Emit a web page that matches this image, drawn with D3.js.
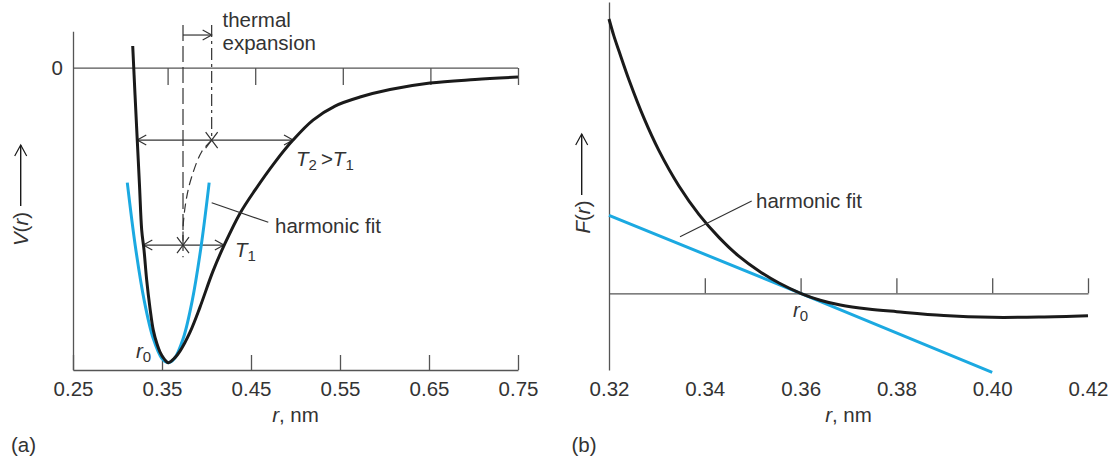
<!DOCTYPE html>
<html>
<head>
<meta charset="utf-8">
<script src="https://cdn.jsdelivr.net/npm/d3@7"></script>
<style>
  html, body { margin: 0; padding: 0; background: #fff; }
  svg text { font-family: "Liberation Sans", Arial, sans-serif; fill: #333; }
</style>
</head>
<body>
<script>
// ---------- DATA ----------
// (a) potential energy V(r), arbitrary units (minimum = -1)
const vCurveR = [0.3171, 0.3197, 0.3222, 0.3247, 0.3272, 0.3298, 0.3328, 0.3365, 0.3402, 0.3444, 0.3478, 0.3522, 0.3571,
                 0.3646, 0.3702, 0.3815, 0.3927, 0.4073, 0.4208, 0.4376, 0.4545, 0.4770, 0.4972, 0.5197, 0.5444, 0.5725, 0.6062, 0.6511, 0.7017, 0.7500];
const vCurveV = [0.0747, -0.0917, -0.2445, -0.397, -0.550, -0.618, -0.720, -0.815, -0.8896, -0.937, -0.964, -0.9864, -1.000,
                 -0.983, -0.961, -0.8964, -0.8115, -0.6893, -0.5953, -0.4934, -0.4143, -0.3192, -0.2445, -0.1766, -0.129, -0.0985, -0.073, -0.0509, -0.039, -0.0306];
// (a) harmonic fit
const harmR = [0.311, 0.320, 0.330, 0.340, 0.350, 0.357, 0.364, 0.374, 0.384, 0.394, 0.403];
const harmV = [-0.389, -0.604, -0.789, -0.9165, -0.986, -1.000, -0.986, -0.9165, -0.789, -0.604, -0.389];
// (a) locus of mean separation (dashed)
const midR = [0.4058, 0.3946, 0.3834, 0.3778, 0.3740, 0.3736];
const midV = [-0.2445, -0.284, -0.369, -0.437, -0.526, -0.601];
// (a) vibration amplitudes at T1 and T2: level, left end, right end, mean
const ampV = [-0.601, -0.2445];
const ampLeft = [0.329, 0.3222];
const ampRight = [0.4195, 0.4972];
const ampMid = [0.3736, 0.4058];
const rTicksA = [0.25, 0.35, 0.45, 0.55, 0.65, 0.75];

// (b) force F(r), arbitrary units
const fCurveR = [0.3200, 0.3210, 0.3221, 0.3242, 0.3273, 0.3304, 0.3346, 0.3388, 0.3430, 0.3471, 0.3513, 0.3555, 0.3600,
                 0.3641, 0.3683, 0.3741, 0.3801, 0.3899, 0.4000, 0.4100, 0.4200];
const fCurveF = [2.743, 2.577, 2.420, 2.130, 1.751, 1.429, 1.073, 0.787, 0.557, 0.371, 0.223, 0.103, 0.000,
                 -0.069, -0.117, -0.157, -0.184, -0.222, -0.240, -0.237, -0.224];
// (b) harmonic (linear) fit
const harmFR = [0.32, 0.36, 0.40];
const harmFF = [0.78, 0.00, -0.79];
const rTicksB = [0.32, 0.34, 0.36, 0.38, 0.40, 0.42];

// ---------- STYLE ----------
const AX = "#555", INK = "#1a1a1a", BLUE = "#1ba9e1", TXT = "#333";
const FS = 20.5;

const svg = d3.select("body").append("svg").attr("width", 1119).attr("height", 461);

function styleAxis(g) {
  g.selectAll("path.domain, .tick line").attr("stroke", AX).attr("stroke-width", 1.3);
  g.selectAll("text").attr("font-size", FS).attr("fill", TXT)
   .attr("font-family", '"Liberation Sans", Arial, sans-serif');
}
function chevron(g, x, y, dir, len = 9, half = 5, color = "#333") {
  let d;
  if (dir === "right") d = `M${x - len},${y - half}L${x},${y}L${x - len},${y + half}`;
  else if (dir === "left") d = `M${x + len},${y - half}L${x},${y}L${x + len},${y + half}`;
  else d = `M${x - half},${y + len}L${x},${y}L${x + half},${y + len}`;
  g.append("path").attr("d", d).attr("fill", "none").attr("stroke", color).attr("stroke-width", 1.2);
}
function cross(g, x, y) {
  g.append("path").attr("d", `M${x - 6},${y - 8}L${x + 6},${y + 8}M${x + 6},${y - 8}L${x - 6},${y + 8}`)
   .attr("stroke", "#333").attr("stroke-width", 1.2).attr("fill", "none");
}
function subLabel(g, x, y, main, sub, after) {
  const t = g.append("text").attr("x", x).attr("y", y).attr("font-size", FS);
  t.append("tspan").text(main).attr("font-style", "italic");
  t.append("tspan").text(sub).attr("font-size", 15).attr("dy", 4);
  if (after) {
    t.append("tspan").text(after[0]).attr("dy", -4).attr("dx", 4);
    t.append("tspan").text(after[1]).attr("font-style", "italic");
    t.append("tspan").text(after[2]).attr("font-size", 15).attr("dy", 4);
  }
  return t;
}
const smooth = d3.curveCatmullRom.alpha(0.5);

// ================= PANEL (a) =================
const gA = svg.append("g");
const xA = d3.scaleLinear().domain([0.25, 0.75]).range([73, 518]);
const xAt = d3.scaleLinear().domain([0.25, 0.75]).range([80, 518]); // zero-line ticks as drawn
const yA = d3.scaleLinear().domain([-1.025, 0.125]).range([370, 31.2]);

gA.append("g").attr("transform", `translate(${xA(0.25)},0)`)
  .call(d3.axisLeft(yA).tickValues([0]).tickSize(0).tickPadding(10).tickFormat(d3.format("d")))
  .call(styleAxis);
gA.append("g").attr("transform", `translate(0,${yA(-1.025)})`)
  .call(d3.axisBottom(xA).tickValues(rTicksA).tickSizeInner(-15).tickSizeOuter(0).tickPadding(11.5).tickFormat(d3.format(".2f")))
  .call(styleAxis);
gA.append("line").attr("x1", xA(0.25)).attr("x2", xA(0.75)).attr("y1", yA(0)).attr("y2", yA(0))
  .attr("stroke", AX).attr("stroke-width", 1.3);
gA.append("g").attr("transform", `translate(0,${yA(0)})`)
  .call(d3.axisBottom(xAt).tickValues(rTicksA.slice(1)).tickSizeInner(17).tickSizeOuter(0).tickFormat(""))
  .call(g => g.select(".domain").remove())
  .call(styleAxis);

// dashed verticals
gA.append("line").attr("x1", xA(ampMid[0])).attr("x2", xA(ampMid[0]))
  .attr("y1", yA(0.146)).attr("y2", yA(-0.642))
  .attr("stroke", "#333").attr("stroke-width", 1.2).attr("stroke-dasharray", "16,5");
gA.append("line").attr("x1", xA(ampMid[1])).attr("x2", xA(ampMid[1]))
  .attr("y1", yA(0.146)).attr("y2", yA(ampV[1]))
  .attr("stroke", "#333").attr("stroke-width", 1.2).attr("stroke-dasharray", "12,4,3,4");
gA.append("path")
  .attr("d", d3.line().x((d, i) => xA(midR[i])).y((d, i) => yA(midV[i])).curve(smooth)(midR))
  .attr("fill", "none").attr("stroke", "#333").attr("stroke-width", 1.2).attr("stroke-dasharray", "9,5");
const yb = yA(0.112);
gA.append("line").attr("x1", xA(ampMid[0])).attr("x2", xA(ampMid[1])).attr("y1", yb).attr("y2", yb)
  .attr("stroke", "#333").attr("stroke-width", 1.2);
chevron(gA, xA(ampMid[1]), yb, "right");
gA.append("text").attr("x", 222.5).attr("y", 27).attr("font-size", FS).text("thermal");
gA.append("text").attr("x", 222.5).attr("y", 50).attr("font-size", FS).text("expansion");

ampV.forEach((v, i) => {
  const y = yA(v);
  gA.append("line").attr("x1", xA(ampLeft[i])).attr("x2", xA(ampRight[i])).attr("y1", y).attr("y2", y)
    .attr("stroke", "#333").attr("stroke-width", 1.2);
  chevron(gA, xA(ampLeft[i]), y, "left");
  chevron(gA, xA(ampRight[i]), y, "right");
  cross(gA, xA(ampMid[i]), y);
});

gA.append("path")
  .attr("d", d3.line().x((d, i) => xA(harmR[i])).y((d, i) => yA(harmV[i])).curve(smooth)(harmR))
  .attr("fill", "none").attr("stroke", BLUE).attr("stroke-width", 3);
gA.append("path")
  .attr("d", d3.line().x((d, i) => xA(vCurveR[i])).y((d, i) => yA(vCurveV[i])).curve(smooth)(vCurveR))
  .attr("fill", "none").attr("stroke", INK).attr("stroke-width", 3);

subLabel(gA, 296, 165.7, "T", "2", [">", "T", "1"]);
subLabel(gA, 235, 256.7, "T", "1");
gA.append("line").attr("x1", 211.7).attr("y1", 202.7).attr("x2", 268.3).attr("y2", 222.3)
  .attr("stroke", "#333").attr("stroke-width", 1.2);
gA.append("text").attr("x", 275).attr("y", 233.3).attr("font-size", FS).text("harmonic fit");
subLabel(gA, 136, 357.7, "r", "0");

const tA = gA.append("text").attr("x", 295.5).attr("y", 421.5).attr("font-size", FS).attr("text-anchor", "middle");
tA.append("tspan").text("r").attr("font-style", "italic");
tA.append("tspan").text(", nm");
const vy = gA.append("text").attr("transform", "translate(28,229) rotate(-90)").attr("font-size", FS).attr("text-anchor", "middle");
vy.append("tspan").text("V").attr("font-style", "italic");
vy.append("tspan").text("(");
vy.append("tspan").text("r").attr("font-style", "italic");
vy.append("tspan").text(")");
gA.append("line").attr("x1", 20.7).attr("x2", 20.7).attr("y1", 206).attr("y2", 145).attr("stroke", INK).attr("stroke-width", 1.4);
chevron(gA, 20.7, 145, "up", 11, 6, INK);
gA.append("text").attr("x", 11).attr("y", 451.5).attr("font-size", FS).text("(a)");

// ================= PANEL (b) =================
const gB = svg.append("g");
const xB = d3.scaleLinear().domain([0.32, 0.42]).range([609, 1088]);
const yB = d3.scaleLinear().domain([-0.767, 2.913]).range([370, 2]);

gB.append("g").attr("transform", `translate(${xB(0.32)},0)`)
  .call(d3.axisLeft(yB).tickValues([]).tickSizeOuter(0))
  .call(styleAxis);
gB.append("g").attr("transform", `translate(0,${yB(0)})`)
  .call(d3.axisBottom(xB).tickValues(rTicksB.slice(1)).tickSizeInner(-15).tickSizeOuter(0).tickFormat(""))
  .call(styleAxis);
gB.append("g").attr("transform", `translate(0,${yB(-0.767)})`)
  .call(d3.axisBottom(xB).tickValues(rTicksB).tickSize(0).tickPadding(11.5).tickFormat(d3.format(".2f")))
  .call(g => g.select(".domain").remove())
  .call(styleAxis);

gB.append("path")
  .attr("d", d3.line().x((d, i) => xB(harmFR[i])).y((d, i) => yB(harmFF[i]))(harmFR))
  .attr("fill", "none").attr("stroke", BLUE).attr("stroke-width", 3);
gB.append("path")
  .attr("d", d3.line().x((d, i) => xB(fCurveR[i])).y((d, i) => yB(fCurveF[i])).curve(smooth)(fCurveR))
  .attr("fill", "none").attr("stroke", INK).attr("stroke-width", 3);

gB.append("line").attr("x1", 680).attr("y1", 236.7).attr("x2", 751.7).attr("y2", 201)
  .attr("stroke", "#333").attr("stroke-width", 1.2);
gB.append("text").attr("x", 756).attr("y", 208.3).attr("font-size", FS).text("harmonic fit");
subLabel(gB, 793, 317.3, "r", "0");

const tB = gB.append("text").attr("x", 848.5).attr("y", 421.5).attr("font-size", FS).attr("text-anchor", "middle");
tB.append("tspan").text("r").attr("font-style", "italic");
tB.append("tspan").text(", nm");
const fy = gB.append("text").attr("transform", "translate(590,217) rotate(-90)").attr("font-size", FS).attr("text-anchor", "middle");
fy.append("tspan").text("F").attr("font-style", "italic");
fy.append("tspan").text("(");
fy.append("tspan").text("r").attr("font-style", "italic");
fy.append("tspan").text(")");
gB.append("line").attr("x1", 581.7).attr("x2", 581.7).attr("y1", 195).attr("y2", 134).attr("stroke", INK).attr("stroke-width", 1.4);
chevron(gB, 581.7, 134, "up", 11, 6, INK);
gB.append("text").attr("x", 571.5).attr("y", 451.5).attr("font-size", FS).text("(b)");
</script>
</body>
</html>
